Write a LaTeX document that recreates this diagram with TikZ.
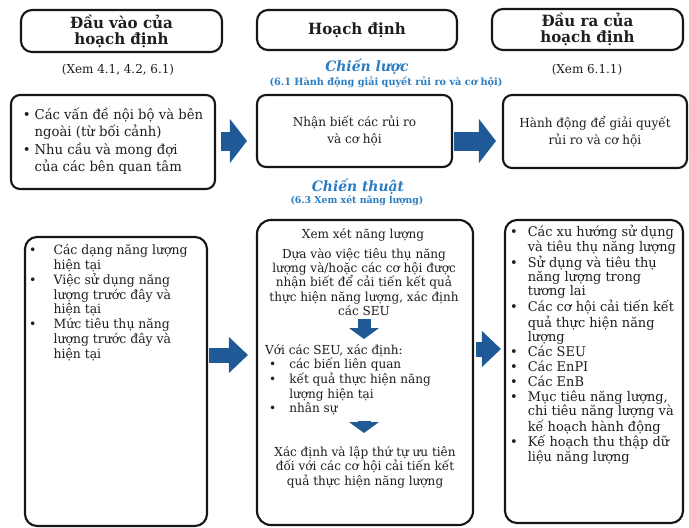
\documentclass[tikz,border=0pt]{standalone}
\usepackage{fontspec}
\setmainfont{DejaVu Serif Condensed}[FakeStretch=1.08]
\usetikzlibrary{arrows.meta,calc}

\definecolor{arrowblue}{HTML}{1F5A96}
\definecolor{titleblue}{HTML}{2B7DC2}
\definecolor{frameink}{HTML}{161616}
\definecolor{bodyink}{HTML}{1E1E1E}

\newcommand\setfs[2]{\fontsize{#1}{#2}\selectfont}

\tikzset{
  frm/.style={draw=frameink, line width=2.1pt, rounded corners=9pt, fill=white, inner sep=0pt},
  headbox/.style={frm, rounded corners=11pt, font=\bfseries\setfs{15.5}{16}, align=center, text=bodyink},
  boxtxt/.style={text=bodyink, inner sep=0pt},
  note/.style={text=bodyink, font=\setfs{12.3}{14}},
  bigarrow/.style={draw=arrowblue, line width=19pt,
    -{Triangle[length=17pt,width=44pt,line width=0pt]}},
  midarrow/.style={draw=arrowblue, line width=15pt,
    -{Triangle[length=19pt,width=36pt,line width=0pt]}},
  smallarrow/.style={draw=arrowblue, line width=13pt,
    -{Triangle[length=11pt,width=30pt,line width=0pt]}},
}

\begin{document}
\begin{tikzpicture}[x=1pt,y=-1pt]
\useasboundingbox (0,0) rectangle (689,528);

% column headings
\node[headbox, minimum width=201pt, minimum height=42pt] (h1) at (121.5,31) {Đầu vào của\\hoạch định};
\node[headbox, minimum width=200pt, minimum height=40pt] (h2) at (357,30) {Hoạch định};
\node[headbox, minimum width=191pt, minimum height=41pt] (h3) at (587.5,29.5) {Đầu ra của\\hoạch định};

\node[note] (x1) at (118,70) {(Xem 4.1, 4.2, 6.1)};
\node[note] (x3) at (587,70) {(Xem 6.1.1)};

% strategic level
\node[text=titleblue, font=\bfseries\itshape\setfs{14.3}{16}] (cl) at (367,67) {Chiến lược};
\node[text=titleblue, font=\bfseries\setfs{10}{12}] (cls) at (386,82) {(6.1 Hành động giải quyết rủi ro và cơ hội)};

\node[frm, minimum width=204pt, minimum height=94pt, font=\setfs{13.6}{17.5}, text=bodyink] (b1) at (113,142)
  {\begin{tabular}{@{}l@{\hspace{4pt}}l@{}}
   \textbullet & Các vấn đề nội bộ và bên\\
               & ngoài (từ bối cảnh)\\
   \textbullet & Nhu cầu và mong đợi\\
               & của các bên quan tâm
   \end{tabular}};
\node[frm, minimum width=195pt, minimum height=72pt, font=\setfs{12.4}{17}, align=center, text=bodyink] (b2) at (354.5,131)
  {Nhận biết các rủi ro\\và cơ hội};
\node[frm, minimum width=184pt, minimum height=73pt, font=\setfs{12.4}{17}, align=center, text=bodyink] (b3) at (595,131.5)
  {Hành động để giải quyết\\rủi ro và cơ hội};

\coordinate (row1) at (0,141);
\draw[bigarrow, shorten <=5pt, shorten >=9pt] (b1.east |- row1) -- (b2.west |- row1);
\draw[bigarrow, shorten <=1pt, shorten >=6pt] (b2.east |- row1) -- (b3.west |- row1);

% tactical level
\node[text=titleblue, font=\bfseries\itshape\setfs{14.3}{16}] (ct) at (358,187) {Chiến thuật};
\node[text=titleblue, font=\bfseries\setfs{9.6}{12}] (cts) at (357,201) {(6.3 Xem xét năng lượng)};

\node[frm, rounded corners=12pt, minimum width=182pt, minimum height=289pt] (b4) at (116,381.5) {};
\node[frm, rounded corners=14pt, minimum width=216pt, minimum height=305pt] (b5) at (365,372.5) {};
\node[frm, rounded corners=12pt, minimum width=178pt, minimum height=303pt] (b6) at (594,371.5) {};

\node[boxtxt, anchor=north west, font=\setfs{12.8}{14.7}] (l4) at (29,244)
  {\begin{tabular}{@{}l@{\hspace{17pt}}l@{}}
   \textbullet & Các dạng năng lượng\\
               & hiện tại\\
   \textbullet & Việc sử dụng năng\\
               & lượng trước đây và\\
               & hiện tại\\
   \textbullet & Mức tiêu thụ năng\\
               & lượng trước đây và\\
               & hiện tại
   \end{tabular}};

\node[boxtxt, font=\setfs{12.4}{14}] (t0) at (363,235) {Xem xét năng lượng};
\node[boxtxt, anchor=north, align=center, font=\setfs{12.4}{14.3}] (t1) at (364,248)
  {Dựa vào việc tiêu thụ năng\\lượng và/hoặc các cơ hội được\\nhận biết để cải tiến kết quả\\thực hiện năng lượng, xác định\\các SEU};
\node[boxtxt, anchor=north west, font=\setfs{12.4}{14.3}] (t2) at (265,344)
  {\begin{tabular}{@{}l@{\hspace{13pt}}l@{}}
   \multicolumn{2}{@{}l@{}}{Với các SEU, xác định:}\\
   \hspace{4pt}\textbullet & các biến liên quan\\
   \hspace{4pt}\textbullet & kết quả thực hiện năng\\
                           & lượng hiện tại\\
   \hspace{4pt}\textbullet & nhân sự
   \end{tabular}};
\node[boxtxt, anchor=north, align=center, font=\setfs{12.4}{14.8}] (t3) at (365,446)
  {Xác định và lập thứ tự ưu tiên\\đối với các cơ hội cải tiến kết\\quả thực hiện năng lượng};

\draw[smallarrow, shorten <=3pt, shorten >=5pt] (t1.south) -- (t1.south |- t2.north);
\draw[smallarrow, shorten <=4pt, shorten >=13pt] (t1.south |- t2.south) -- (t1.south |- t3.north);

\node[boxtxt, anchor=north west, font=\setfs{13.3}{14.2}] (r6) at (510,225)
  {\begin{tabular}{@{}l@{\hspace{10pt}}l@{}}
   \textbullet & Các xu hướng sử dụng\\
               & và tiêu thụ năng lượng\\
   \textbullet & Sử dụng và tiêu thụ\\
               & năng lượng trong\\
               & tương lai\\
   \textbullet & Các cơ hội cải tiến kết\\
               & quả thực hiện năng\\
               & lượng\\
   \textbullet & Các SEU\\
   \textbullet & Các EnPI\\
   \textbullet & Các EnB\\
   \textbullet & Mục tiêu năng lượng,\\
               & chi tiêu năng lượng và\\
               & kế hoạch hành động\\
   \textbullet & Kế hoạch thu thập dữ\\
               & liệu năng lượng
   \end{tabular}};

\coordinate (row2a) at (0,355);
\coordinate (row2b) at (0,349);
\draw[midarrow, shorten <=1pt, shorten >=8pt] (b4.east |- row2a) -- (b5.west |- row2a);
\draw[midarrow, shorten <=2pt, shorten >=3pt] (b5.east |- row2b) -- (b6.west |- row2b);
\end{tikzpicture}
\end{document}
